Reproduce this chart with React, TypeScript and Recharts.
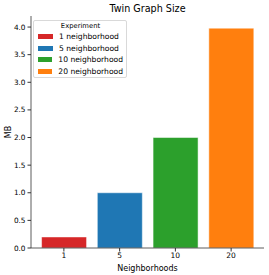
import React from 'react';
import { BarChart, Bar, XAxis, YAxis, Cell, ReferenceArea, Label } from 'recharts';

const categories = ['1', '5', '10', '20'];
const sizes = [0.2, 1.0, 2.0, 3.98];
const seriesNames = ['1 neighborhood', '5 neighborhood', '10 neighborhood', '20 neighborhood'];
const colors = ['#d62728', '#1f77b4', '#2ca02c', '#ff7f0e'];
const yTicks = [0, 0.5, 1, 1.5, 2, 2.5, 3, 3.5, 4];

const data = categories.map((c, i) => ({ name: c, value: sizes[i] }));

const font = 'DejaVu Sans, sans-serif';

const LegendBox = () => (
  <div
    style={{
      position: 'absolute',
      left: 33,
      top: 20,
      width: 94,
      height: 58,
      boxSizing: 'border-box',
      border: '1px solid #d9d9d9',
      borderRadius: 2,
      background: 'rgba(255,255,255,0.8)',
      padding: '0 3px 0 4px',
      fontFamily: font,
      fontSize: 7.6,
      color: '#000',
      lineHeight: '11.5px',
      whiteSpace: 'nowrap',
    }}
  >
    <div style={{ textAlign: 'center', fontSize: 6.8, lineHeight: '10px' }}>Experiment</div>
    {seriesNames.map((n, i) => (
      <div key={n} style={{ display: 'flex', alignItems: 'center' }}>
        <span style={{ display: 'inline-block', width: 15, height: 5, background: colors[i], marginRight: 6 }} />
        <span>{n}</span>
      </div>
    ))}
  </div>
);

export default function App() {
  return (
    <div style={{ position: 'absolute', left: 0, top: 0, width: 269, height: 275, background: '#fff' }}>
      <BarChart width={269} height={275} data={data} margin={{ top: 16, right: 5, bottom: 0, left: 0 }} barCategoryGap="10%">
        <XAxis
          dataKey="name"
          height={27}
          padding={{ left: 5, right: 5 }}
          tick={{ fontSize: 7.5, fill: '#000', fontFamily: font }}
          tickSize={3.5}
          tickMargin={1.5}
          stroke="#333"
          axisLine={{ stroke: '#333', strokeWidth: 0.8 }}
        >
          <Label value="Neighborhoods" position="insideBottom" offset={4} style={{ fontSize: 8, fill: '#000', fontFamily: font }} />
        </XAxis>
        <YAxis
          width={31}
          domain={[0, 4.2]}
          ticks={yTicks}
          tickFormatter={(v: number) => v.toFixed(1)}
          tick={{ fontSize: 7.3, fill: '#000', fontFamily: font }}
          tickSize={3.5}
          tickMargin={2}
          stroke="#333"
          axisLine={{ stroke: '#333', strokeWidth: 0.8 }}
          allowDataOverflow
        >
          <Label value="MB" angle={-90} position="insideLeft" offset={8} style={{ fontSize: 8, fill: '#000', fontFamily: font, textAnchor: 'middle' }} />
        </YAxis>
        <ReferenceArea fill="none" stroke="#333" strokeWidth={0.8} ifOverflow="visible" />
        <Bar dataKey="value" isAnimationActive={false} stroke="#fff" strokeWidth={0.5}>
          {data.map((d, i) => (
            <Cell key={d.name} fill={colors[i]} />
          ))}
        </Bar>
      </BarChart>
      <div
        style={{
          position: 'absolute',
          left: 31,
          width: 233,
          top: 3,
          textAlign: 'center',
          fontFamily: font,
          fontSize: 9.6,
          color: '#000',
        }}
      >
        Twin Graph Size
      </div>
      <LegendBox />
    </div>
  );
}
